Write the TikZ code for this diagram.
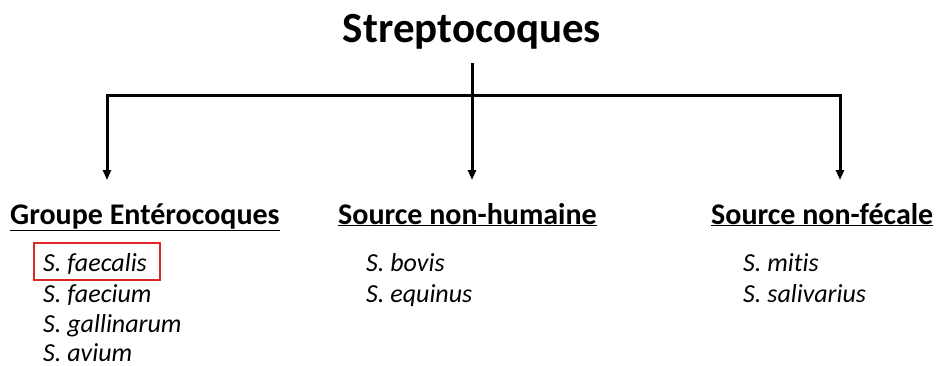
\documentclass[tikz,border=0pt]{standalone}
\usepackage{fontspec}
\setmainfont{Carlito}[Ligatures=NoCommon]
\usepackage{tikz}
\usetikzlibrary{positioning,arrows.meta}
\tikzstyle{chart} = [x = 1pt, y = -1pt]
\definecolor{boxRed}{RGB}{222,38,38}
\tikzstyle{titleText} = [font=\fontsize{43}{47}\selectfont\bfseries, inner sep=0pt]
\tikzstyle{headText} = [font=\fontsize{30}{33}\selectfont\bfseries, inner sep=0pt, anchor=base west]
\tikzstyle{speciesText} = [font=\fontsize{26}{29}\selectfont\itshape, inner sep=0pt, anchor=base west]
\tikzstyle{branchLine} = [line width=3pt, color=black]
\tikzstyle{branchArrow} = [line width=3pt, -{Stealth[length=10pt, width=8pt, inset=0pt]}]
\tikzstyle{markBox} = [draw=boxRed, line width=1.8pt]
\newcommand{\species}[4]{\node [speciesText] (#1) at (#2, #3) {S. #4};}

\begin{document}
\begin{tikzpicture}[chart]
  \useasboundingbox (0,0) rectangle (937,365);
  \node [titleText, anchor=base] (title) at (472,42) {Streptocoques};

  % tree
  \coordinate (top) at (472,63);
  \coordinate (joinL) at (107,95);
  \coordinate (joinM) at (472,95);
  \coordinate (joinR) at (840,95);
  \coordinate (endL) at (107,180);
  \coordinate (endM) at (472,180);
  \coordinate (endR) at (840,180);
  \draw [branchLine] (top) -- (joinM);
  \draw [branchLine, line cap=rect] (joinL) -- (joinR);
  \draw [branchArrow] (joinL) -- (endL);
  \draw [branchArrow] (joinM) -- (endM);
  \draw [branchArrow] (joinR) -- (endR);

  % groups
  \node [headText] (groupEntero) at (10,224) {\underline{Groupe Entérocoques}};
  \node [headText] (groupHumaine) at (338,224) {\underline{Source non-humaine}};
  \node [headText] (groupFecale) at (711,224) {\underline{Source non-fécale}};

  \species{faecalis}{43}{271}{faecalis}
  \species{faecium}{43}{302}{faecium}
  \species{gallinarum}{43}{332}{gallinarum}
  \species{avium}{43}{361}{avium}
  \species{bovis}{366}{271}{bovis}
  \species{equinus}{366}{302}{equinus}
  \species{mitis}{743}{271}{mitis}
  \species{salivarius}{743}{302}{salivarius}

  \draw [markBox] (34,243) rectangle (160,280);
\end{tikzpicture}
\end{document}
